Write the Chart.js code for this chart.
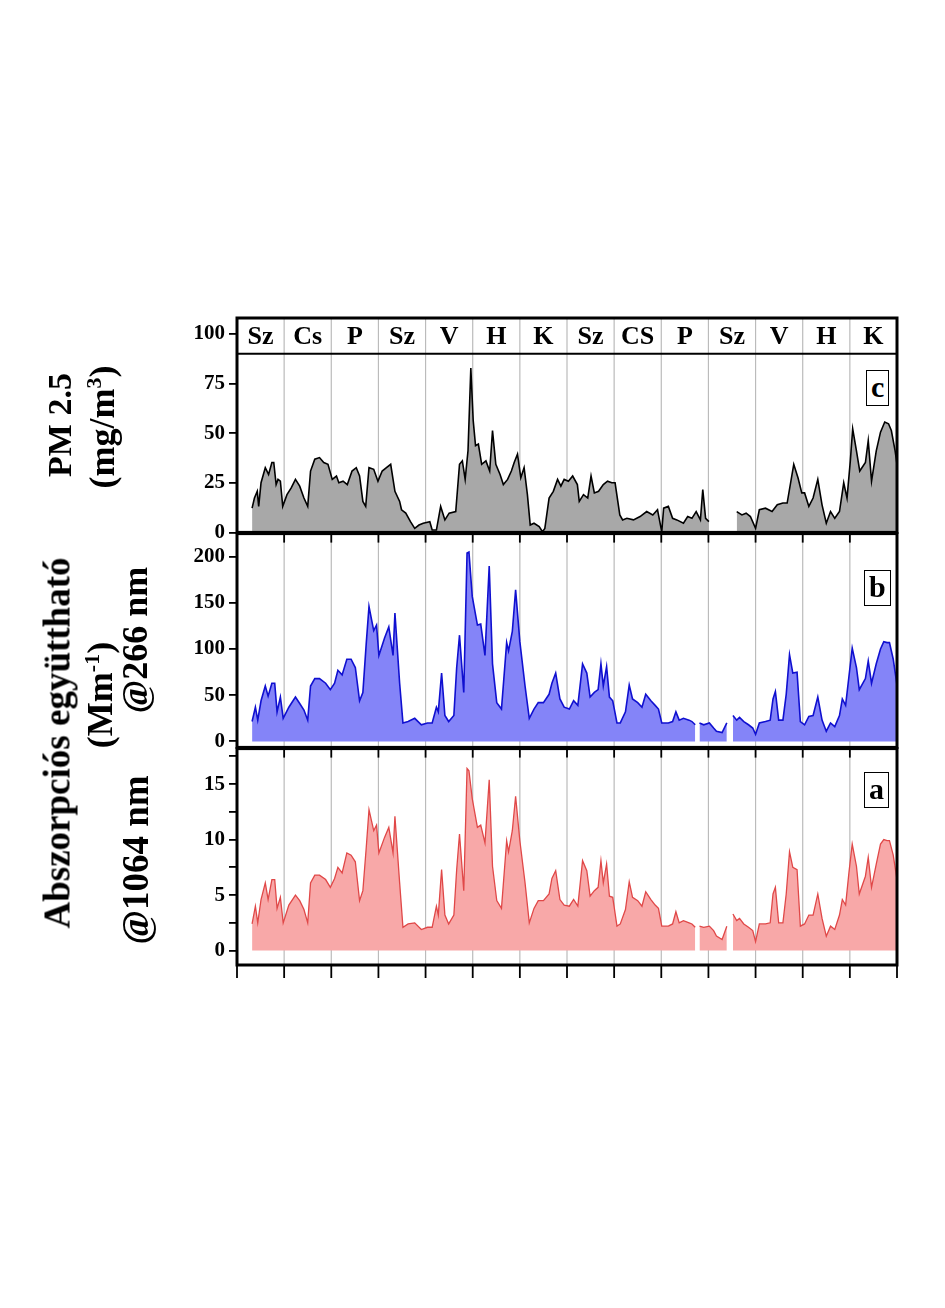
<!DOCTYPE html>
<html>
<head>
<meta charset="utf-8">
<script src="https://cdn.jsdelivr.net/npm/chart.js@4/dist/chart.umd.min.js"></script>
<style>
body{margin:0;width:945px;height:1308px;background:#fff;position:relative;overflow:hidden;font-family:"Liberation Serif",serif;}
canvas{position:absolute;left:0;}
.t{position:absolute;font-weight:bold;font-size:34px;white-space:nowrap;transform:translate(-50%,-50%) rotate(-90deg);color:#000;}
.box{position:absolute;border:1.5px solid #000;background:#fff;font-weight:bold;font-size:30px;line-height:30px;padding:1px 4px 3px 4px;}
</style>
</head>
<body>
<canvas id="cC" style="top:300px"></canvas>
<canvas id="cB" style="top:517px"></canvas>
<canvas id="cA" style="top:732px"></canvas>

<div class="t" style="left:60px;top:425px">PM 2.5</div>
<div class="t" style="left:102px;top:427px;font-size:36px">(mg/m<sup style="font-size:22px">3</sup>)</div>
<div class="t" style="left:57px;top:743px;font-size:37px">Abszorpciós együttható</div>
<div class="t" style="left:100px;top:695px;font-size:36px">(Mm<sup style="font-size:22px">-1</sup>)</div>
<div class="t" style="left:135px;top:640px;font-size:36px">@266 nm</div>
<div class="t" style="left:135px;top:860px;font-size:37px">@1064 nm</div>
<div class="box" style="left:866px;top:370px">c</div>
<div class="box" style="left:864px;top:570px">b</div>
<div class="box" style="left:864px;top:772px">a</div>

<script>
var days = ["Sz","Cs","P","Sz","V","H","K","Sz","CS","P","Sz","V","H","K"];

var pmX = [0.32,0.37,0.43,0.46,0.51,0.60,0.67,0.74,0.78,0.83,0.87,0.92,0.97,1.06,1.15,1.24,1.33,1.42,1.50,1.56,1.65,1.75,1.84,1.93,2.02,2.11,2.16,2.25,2.34,2.44,2.53,2.60,2.67,2.73,2.80,2.90,2.99,3.08,3.17,3.26,3.35,3.45,3.49,3.58,3.68,3.77,3.86,3.95,4.09,4.14,4.23,4.32,4.41,4.50,4.64,4.72,4.78,4.84,4.90,4.96,5.01,5.06,5.12,5.19,5.28,5.36,5.42,5.49,5.58,5.65,5.74,5.82,5.88,5.95,6.02,6.09,6.16,6.22,6.30,6.41,6.48,6.53,6.62,6.71,6.80,6.87,6.94,7.03,7.12,7.22,7.26,7.35,7.44,7.51,7.58,7.67,7.77,7.86,7.95,8.02,8.12,8.18,8.27,8.41,8.55,8.69,8.82,8.92,9.01,9.05,9.15,9.24,9.33,9.47,9.56,9.65,9.74,9.83,9.88,9.94,10.01,10.3,10.60,10.71,10.80,10.89,11.00,11.08,11.21,11.35,11.46,11.58,11.67,11.81,11.90,11.98,12.04,12.13,12.22,12.32,12.41,12.50,12.59,12.68,12.78,12.87,12.94,13.01,13.06,13.14,13.21,13.33,13.39,13.46,13.56,13.65,13.74,13.82,13.88,13.96,14.00];
var pm25 = [12.2,17.3,20.7,13.1,25,32.6,29.2,35.2,35.2,24.1,26.7,25.8,13.1,19,22.4,26.7,23.3,17.3,13.1,30.9,36.9,37.7,35.2,34.3,26.7,28.4,25,25.8,24.1,30.9,32.6,28.4,15.6,13.1,32.6,31.8,25.8,30.9,32.6,34.3,20.7,15.6,11.4,9.7,5.4,2.0,3.7,4.6,5.4,1.2,1.2,13.1,6.3,9.7,10.5,34.3,36,26.7,41.1,82.8,56.4,43.7,44.5,34.3,36,30.9,51.3,34.3,29.2,24.1,26.7,30.9,35.2,39.4,27.5,32.6,19,3.7,4.6,2.9,0.3,2.0,17.3,20.7,26.7,23.3,26.7,25.8,28.4,24.1,15.6,19,17.3,28.4,19.9,20.7,24.1,25.8,25,25,8.8,6.3,7.1,6.3,8.0,10.5,8.8,11.4,0.3,12.2,13.1,7.1,6.3,4.6,8.0,7.1,10.5,6.3,21.6,7.1,5.4,null,10.5,8.8,9.7,8.0,2.0,11.4,12.2,10.5,13.9,14.8,14.8,34.3,27.5,19.9,19.9,13.1,17.3,26.7,13.9,4.6,10.5,7.1,10.5,25,17.3,36,52.2,41.1,30.9,35.2,46.2,25.8,41.1,50.5,55.6,54.7,51.3,41.1,34.3];

var absX = [0.32,0.39,0.44,0.51,0.60,0.66,0.74,0.80,0.85,0.92,0.98,1.10,1.24,1.33,1.42,1.50,1.56,1.65,1.75,1.88,1.98,2.07,2.14,2.23,2.33,2.42,2.51,2.60,2.67,2.74,2.80,2.90,2.96,3.01,3.13,3.22,3.31,3.35,3.45,3.52,3.63,3.77,3.91,4.04,4.14,4.23,4.27,4.34,4.41,4.49,4.60,4.66,4.72,4.81,4.88,4.92,4.99,5.10,5.17,5.26,5.35,5.42,5.51,5.61,5.72,5.76,5.84,5.91,6.00,6.11,6.20,6.30,6.39,6.50,6.62,6.68,6.76,6.85,6.94,7.05,7.14,7.23,7.33,7.42,7.49,7.58,7.66,7.72,7.77,7.84,7.90,7.97,8.06,8.13,8.24,8.32,8.39,8.50,8.59,8.67,8.78,8.87,8.94,9.01,9.15,9.24,9.31,9.38,9.47,9.59,9.65,9.72,9.74,9.81,9.90,10.02,10.11,10.17,10.29,10.39,10.43,10.52,10.60,10.66,10.75,10.85,10.94,11.00,11.08,11.21,11.31,11.37,11.42,11.49,11.58,11.65,11.72,11.79,11.88,11.95,12.04,12.13,12.22,12.32,12.41,12.50,12.59,12.68,12.78,12.84,12.91,12.98,13.05,13.14,13.20,13.33,13.39,13.46,13.56,13.65,13.72,13.79,13.84,13.92,14.00];
var abs266 = [21.5,37,23,44,60,49,63,63,32,48,25,37,48,41,34,23,60,68,68,63,56,63,77,72,89,89,80,44,53,105,146,120,126,93,112,124,93,139,63,20,21.5,25,18,20,20,37,32,74,28,21.5,28,80,115,53,204,205,157,126,127,93,190,84,42,35,107,98,119,164,108,60,25,35,42,42,51,63,74,46,37,35,44,39,84,74,48,53,56,84,60,81,48,44,20,20,32,61,46,42,37,51,44,39,35,20,20,21.5,32,23,25,23,21.5,18,null,20,18,20,14.5,11,9.5,20,null,28,23,26,21.5,18,14.5,7.6,20,21.5,23,46,54,23,23,51,94,74,75,21.5,18,27,28,48,23,11,20,16,28,46,39,70,101,80,56,68,87,63,84,100,108,107,107,89,61];
var abs1064 = [2.4,4.0,2.5,4.6,6.1,4.6,6.4,6.4,3.8,4.8,2.5,4.1,5.0,4.5,3.7,2.5,6.1,6.8,6.8,6.4,5.7,6.5,7.5,7.0,8.8,8.6,8.0,4.5,5.4,9.2,12.7,10.8,11.3,8.8,10.2,11.1,8.8,12.1,6.1,2.1,2.4,2.5,1.9,2.1,2.1,4.0,3.2,7.3,3.2,2.4,3.2,7.3,10.5,5.4,16.4,16.2,13.7,11.1,11.3,9.7,15.4,7.6,4.5,3.8,9.9,8.9,10.8,13.9,9.9,6.1,2.5,3.8,4.5,4.5,5.1,6.5,7.2,4.6,4.1,4.0,4.6,4.0,8.1,7.2,4.9,5.4,5.7,8.1,6.1,7.8,4.9,4.8,2.2,2.4,3.7,6.2,4.8,4.5,4.0,5.3,4.6,4.1,3.8,2.2,2.2,2.4,3.5,2.5,2.7,2.5,2.4,2.1,null,2.2,2.1,2.2,1.8,1.3,1.0,2.2,null,3.3,2.7,2.9,2.4,2.1,1.8,0.8,2.4,2.4,2.5,5.1,5.7,2.5,2.5,5.1,8.9,7.5,7.3,2.2,2.4,3.2,3.2,5.1,2.9,1.3,2.2,1.9,3.2,4.6,4.1,7.0,9.6,7.6,5.1,6.7,8.4,5.7,7.8,9.6,10.0,9.9,9.9,8.6,6.4];

var ticksC = [0,12.5,25,37.5,50,62.5,75,87.5,100];
var ticksB = [0,25,50,75,100,125,150,175,200];
var ticksA = [0,2.5,5,7.5,10,12.5,15,17.5];
var dayTicks = [0,1,2,3,4,5,6,7,8,9,10,11,12,13,14];

function pts(xs, ys){ return xs.map(function(x,i){ return {x:x, y:ys[i]}; }); }

var FONT = {family:"Liberation Serif", weight:"bold", size:21};

var frame = {
  id:'frame',
  beforeDatasetsDraw: function(chart){
    var c = chart.ctx, a = chart.chartArea, xs = chart.scales.x;
    c.save();
    c.strokeStyle = '#bbbbbb'; c.lineWidth = 1.2;
    dayTicks.forEach(function(d){
      if(d===0||d===14) return;
      var px = xs.getPixelForValue(d);
      c.beginPath(); c.moveTo(px,a.top); c.lineTo(px,a.bottom); c.stroke();
    });
    c.restore();
  },
  afterDatasetsDraw: function(chart, args, o){
    var c = chart.ctx, a = chart.chartArea, xs = chart.scales.x;
    c.save();
    if(o.header){
      var yh = chart.scales.y.getPixelForValue(90);
      c.fillStyle='#fff'; c.fillRect(a.left,a.top,a.width,yh-a.top);
      c.strokeStyle = '#bbbbbb'; c.lineWidth = 1.2;
      dayTicks.forEach(function(d){
        if(d===0||d===14) return;
        var px = xs.getPixelForValue(d);
        c.beginPath(); c.moveTo(px,a.top); c.lineTo(px,yh); c.stroke();
      });
      c.strokeStyle='#000'; c.lineWidth=2;
      c.beginPath(); c.moveTo(a.left,yh); c.lineTo(a.right,yh); c.stroke();
      c.fillStyle='#000'; c.font='bold 26px "Liberation Serif"';
      c.textAlign='center'; c.textBaseline='middle';
      days.forEach(function(t,i){ c.fillText(t, xs.getPixelForValue(i+0.5), (a.top+yh)/2+1); });
    }
    c.strokeStyle='#000'; c.lineWidth=1.8;
    if(o.topTicks){
      dayTicks.forEach(function(d){
        var px = xs.getPixelForValue(d);
        c.beginPath(); c.moveTo(px,a.top); c.lineTo(px,a.top+9); c.stroke();
      });
    }
    if(o.bottomTicks){
      dayTicks.forEach(function(d){
        var px = xs.getPixelForValue(d);
        c.beginPath(); c.moveTo(px,a.bottom); c.lineTo(px,a.bottom+13); c.stroke();
      });
    }
    c.lineWidth=3;
    c.strokeRect(a.left,a.top,a.width,a.height);
    c.restore();
  }
};

function makeChart(id, h, padTop, padBottom, data, lineCol, fillCol, lw, yMin, yMax, yTicks, labelStep, opts){
  var el = document.getElementById(id);
  el.width = 945; el.height = h;
  el.style.width = '945px'; el.style.height = h+'px';
  return new Chart(el, {
    type:'line',
    data:{datasets:[{data:data, borderColor:lineCol, backgroundColor:fillCol, borderWidth:lw,
      fill:'origin', pointRadius:0, tension:0, spanGaps:false}]},
    options:{
      responsive:false, animation:false,
      layout:{padding:{top:padTop, bottom:padBottom, left:0, right:48}},
      plugins:{legend:{display:false}, tooltip:{enabled:false}, frame:opts},
      scales:{
        x:{type:'linear', min:0, max:14, display:false},
        y:{min:yMin, max:yMax,
          afterBuildTicks:function(s){ s.ticks = yTicks.map(function(v){ return {value:v}; }); },
          afterFit:function(s){ s.width = 237; },
          grid:{drawOnChartArea:false, tickLength:8, color:'#000', lineWidth:1.8},
          border:{display:false},
          ticks:{color:'#000', font:FONT, padding:4,
            callback:function(v){ return (v % labelStep === 0) ? String(v) : ''; }}
        }
      }
    },
    plugins:[frame]
  });
}

makeChart('cC', 249, 18, 16, pts(pmX, pm25), '#000000', '#a8a8a8', 1.6, 0, 108, ticksC, 25, {header:true});
makeChart('cB', 247, 16, 16, pts(absX, abs266), '#1010d0', '#8484f8', 1.6, -6.5, 225, ticksB, 50, {topTicks:true});
makeChart('cA', 256, 16, 23, pts(absX, abs1064), '#e04848', '#f8a8a8', 1.3, -1.3, 18.2, ticksA, 5, {topTicks:true, bottomTicks:true});
</script>
</body>
</html>
